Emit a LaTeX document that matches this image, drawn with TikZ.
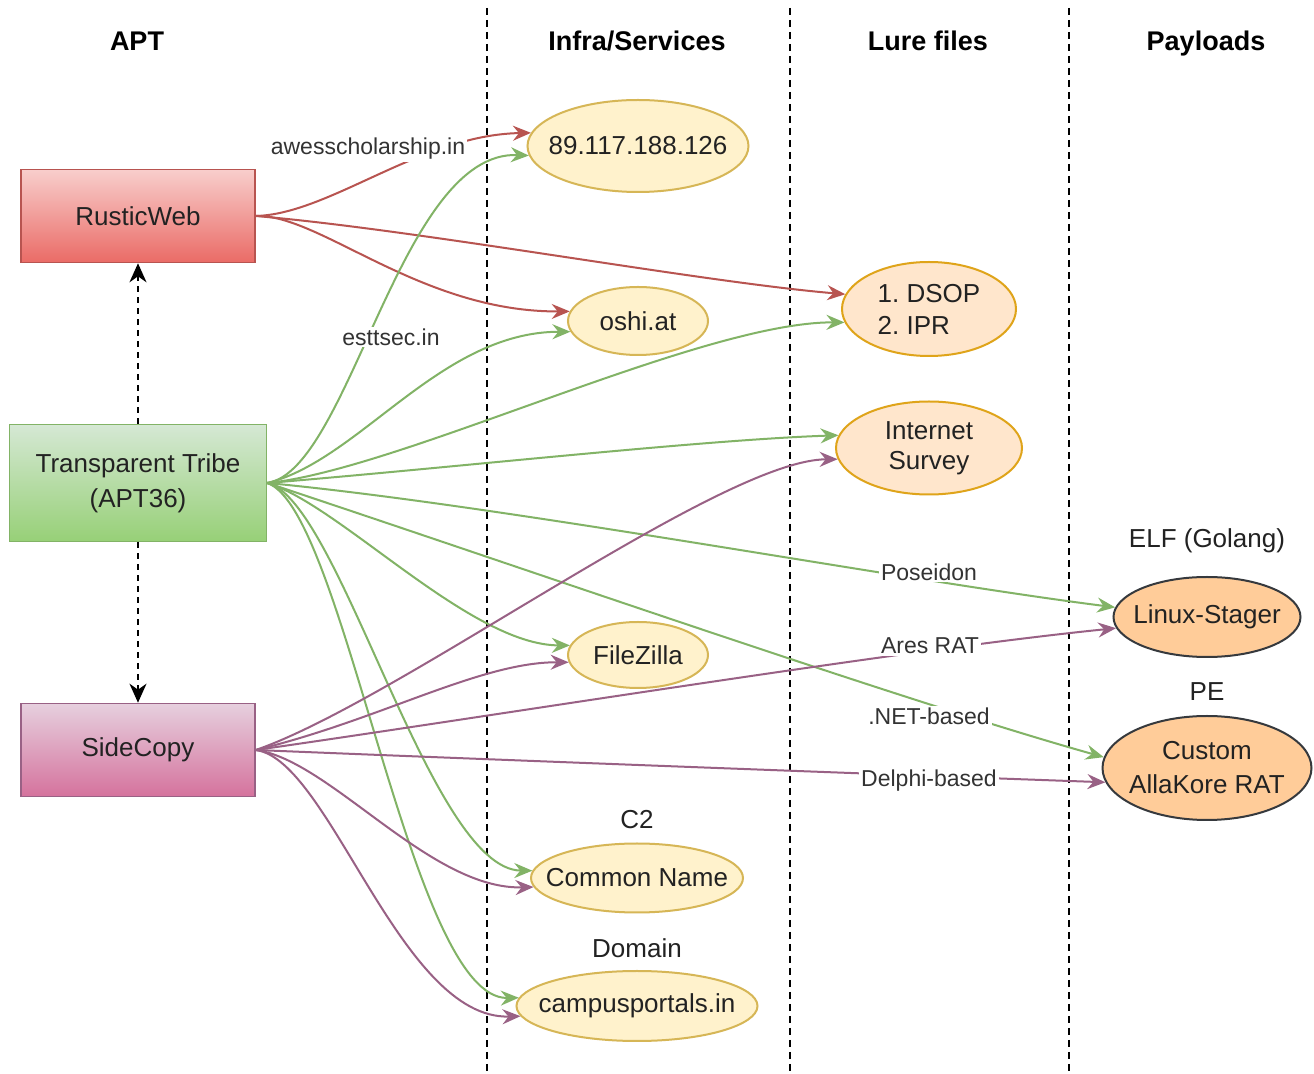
\documentclass[tikz,border=0pt]{standalone}
\usepackage{fontspec}
\setmainfont{Liberation Sans}
\usetikzlibrary{shapes.geometric,arrows.meta}
\definecolor{txt}{HTML}{222222}
\definecolor{ltxt}{HTML}{333333}
\definecolor{redline}{HTML}{B85450}
\definecolor{greenline}{HTML}{82B366}
\definecolor{purpline}{HTML}{996185}
\definecolor{infrafill}{HTML}{FFF2CC}
\definecolor{infradraw}{HTML}{D6B656}
\definecolor{lurefill}{HTML}{FFE6CC}
\definecolor{luredraw}{HTML}{DFA41A}
\definecolor{payfill}{HTML}{FFCC99}
\definecolor{paydraw}{HTML}{36393D}
\begin{document}
\frenchspacing
\begin{tikzpicture}[x=0.5pt,y=-0.5pt,
  nodefont/.style={font=\fontsize{13}{16}\selectfont, text=txt},
  lbl/.style={nodefont, align=center, inner sep=0pt},
  hdr/.style={font=\fontsize{13.5}{16}\selectfont\bfseries, text=black, anchor=base},
  plain/.style={nodefont},
  aptbox/.style={rectangle, nodefont, line width=0.8pt, align=center},
  rwbox/.style={aptbox, draw=redline, top color={rgb,255:red,248;green,206;blue,204}, bottom color={rgb,255:red,234;green,107;blue,102}, minimum width=117pt, minimum height=46.5pt},
  ttbox/.style={aptbox, draw=greenline, top color={rgb,255:red,213;green,232;blue,212}, bottom color={rgb,255:red,151;green,208;blue,119}, minimum width=128.5pt, minimum height=58.5pt, font=\fontsize{13}{17.5}\selectfont},
  scbox/.style={aptbox, draw=purpline, top color={rgb,255:red,230;green,208;blue,222}, bottom color={rgb,255:red,213;green,115;blue,157}, minimum width=117pt, minimum height=46.5pt},
  ell/.style={ellipse, line width=1pt, inner sep=0pt},
  infra/.style={ell, fill=infrafill, draw=infradraw},
  lure/.style={ell, fill=lurefill, draw=luredraw},
  pay/.style={ell, fill=payfill, draw=paydraw},
  conn/.style={line width=1pt, -{Stealth[length=9pt,width=7.5pt,inset=3pt]}},
  redc/.style={conn, draw=redline},
  greenc/.style={conn, draw=greenline},
  purpc/.style={conn, draw=purpline},
  elabel/.style={fill=white, inner sep=1pt, font=\fontsize{11.5}{13}\selectfont, text=ltxt},
  sepline/.style={line width=1pt, dash pattern=on 3.5pt off 2.5pt, draw=black},
  dasharr/.style={line width=1pt, dash pattern=on 3pt off 2.5pt, -{Stealth[length=9.5pt,width=8.5pt,inset=3pt]}, draw=black}
]
\fill[white] (0,0) rectangle (1314,1074);
\useasboundingbox (0,0) rectangle (1314,1074);

% column separators
\draw[sepline] (487,8) -- (487,1074);
\draw[sepline] (790,8) -- (790,1074);
\draw[sepline] (1069,8) -- (1069,1074);

% headers
\node[hdr] (hapt) at (137,51) {APT};
\node[hdr] (hinfra) at (637,51) {Infra/Services};
\node[hdr] (hlure) at (928,51) {Lure files};
\node[hdr] (hpay) at (1206,51) {Payloads};

% APT boxes
\node[rwbox] (rw) at (138,216) {RusticWeb};
\node[ttbox] (tt) at (138,483) {\raisebox{-3pt}{}Transparent Tribe\\(APT36)};
\node[scbox] (sc) at (138,750) {SideCopy};

% infra
\node[infra, minimum width=110.5pt, minimum height=46pt, label={[lbl]center:89.117.188.126}] (ip) at (638,146) {};
\node[infra, minimum width=70pt, minimum height=34pt, label={[lbl]center:oshi.at}] (oshi) at (638,321) {};
\node[infra, minimum width=70pt, minimum height=33pt, label={[lbl]center:FileZilla}] (fz) at (638,655) {};
\node[infra, minimum width=106pt, minimum height=34.5pt, label={[lbl]center:Common Name}] (cn) at (637,878) {};
\node[infra, minimum width=120.5pt, minimum height=35pt, label={[lbl]center:campusportals.in}] (campus) at (637,1006) {};

% lure files
\node[lure, minimum width=87pt, minimum height=47pt, label={[lbl, align=left]center:1. DSOP\\2. IPR}] (dsop) at (929,309) {};
\node[lure, minimum width=93pt, minimum height=46.5pt, label={[lbl, font=\fontsize{13}{15}\selectfont]center:Internet\\Survey}] (survey) at (929,448) {};

% payloads
\node[pay, minimum width=93.5pt, minimum height=40pt, label={[lbl]center:Linux-Stager}] (linux) at (1207,617) {};
\node[pay, minimum width=104.5pt, minimum height=52pt, label={[lbl, font=\fontsize{13}{17}\selectfont]center:Custom\\AllaKore RAT}] (alla) at (1207,768) {};

% free labels
\node[plain] (elf) at (1207,541) {ELF (Golang)};
\node[plain] (pe) at (1207,692) {PE};
\node[plain] (c2) at (637,820) {C2};
\node[plain] (dom) at (637,948) {Domain};

% dashed relations
\draw[dasharr] (tt.north) -- (rw.south);
\draw[dasharr] (tt.south) -- (sc.north);

% RusticWeb edges
\draw[redc] (rw.east) .. controls (330,214) and (420,135) .. (ip.173);
\draw[redc] (rw.east) .. controls (420,230) and (700,282) .. (dsop.170);
\draw[redc] (rw.east) .. controls (320,214) and (420,312) .. (oshi.172);

% Transparent Tribe edges
\draw[greenc] (tt.east) .. controls (350,470) and (400,150) .. (ip.185);
\draw[greenc] (tt.east) .. controls (360,460) and (440,332) .. (oshi.189);
\draw[greenc] (tt.east) .. controls (400,470) and (700,322) .. (dsop.189);
\draw[greenc] (tt.east) .. controls (450,468) and (700,440) .. (survey.172);
\draw[greenc] (tt.east) .. controls (500,505) and (900,580) .. (linux.174);
\draw[greenc] (tt.east) .. controls (500,560) and (900,700) .. (alla.174);
\draw[greenc] (tt.east) .. controls (340,505) and (470,645) .. (fz.172);
\draw[greenc] (tt.east) .. controls (340,500) and (430,870) .. (cn.176);
\draw[greenc] (tt.east) .. controls (345,510) and (410,1000) .. (campus.176);

% SideCopy edges
\draw[purpc] (sc.east) .. controls (400,700) and (720,460) .. (survey.187);
\draw[purpc] (sc.east) .. controls (380,720) and (480,662) .. (fz.186);
\draw[purpc] (sc.east) .. controls (500,715) and (900,650) .. (linux.187);
\draw[purpc] (sc.east) .. controls (500,760) and (900,775) .. (alla.188);
\draw[purpc] (sc.east) .. controls (330,760) and (430,890) .. (cn.185);
\draw[purpc] (sc.east) .. controls (330,760) and (400,1020) .. (campus.185);

% edge labels
\node[elabel] (lawe) at (368,149) {awesscholarship.in};
\node[elabel] (lest) at (391,337) {esttsec.in};
\node[elabel] (lpos) at (929,572) {Poseidon};
\node[elabel] (lares) at (930,646) {Ares RAT};
\node[elabel] (lnet) at (929,716) {.NET-based};
\node[elabel] (ldel) at (929,781) {Delphi-based};
\end{tikzpicture}
\end{document}
